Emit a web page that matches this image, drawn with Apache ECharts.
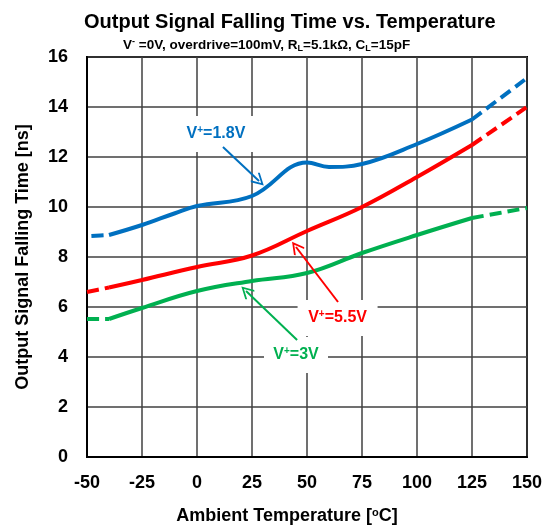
<!DOCTYPE html>
<html><head><meta charset="utf-8">
<script src="https://cdn.jsdelivr.net/npm/echarts@6/dist/echarts.min.js"></script>
<style>html,body{margin:0;padding:0;background:#fff}#c{width:552px;height:526px}</style>
</head><body><div id="c"></div>
<script>
// ---- data ----
const xTicks = [-50, -25, 0, 25, 50, 75, 100, 125, 150];
const yTicks = [0, 2, 4, 6, 8, 10, 12, 14, 16];

const blueTemps  = [-48, -40, -25, -10, 0, 25, 50, 60, 75, 100, 125, 150];
const blueValues = [8.84, 8.88, 9.28, 9.75, 10.04, 10.44, 11.78, 11.6, 11.72, 12.52, 13.5, 15.16];

const redTemps  = [-50, -40, -25, 0, 25, 50, 75, 100, 125, 150];
const redValues = [6.6, 6.78, 7.08, 7.6, 8.06, 9.04, 10.0, 11.2, 12.48, 14.0];

const greenTemps  = [-50, -40, -25, 0, 25, 50, 75, 100, 125, 150];
const greenValues = [5.52, 5.52, 5.96, 6.64, 7.04, 7.36, 8.16, 8.88, 9.56, 9.96];

const solidFrom = -40;   // measured range (solid); outside is dashed extrapolation
const solidTo = 125;

const labelBlue = 'V+=1.8V';
const labelRed = 'V+=5.5V';
const labelGreen = 'V+=3V';

// ---- helpers ----
const FONT = 'Liberation Sans, Arial, sans-serif';
function pairs(t, v) { return t.map((x, i) => [x, v[i]]); }
function part(t, v, lo, hi) { return pairs(t, v).filter(p => p[0] >= lo && p[0] <= hi); }

const arrowPath = 'path://M0,0 L10,13 L8,14.5 L0,4 L-8,14.5 L-10,13 Z';

function lineSeries(name, color, data, dashed, extra) {
  return Object.assign({
    name, type: 'line', data, smooth: 0.4,
    showSymbol: false, symbol: 'none', silent: true,
    lineStyle: { color, width: 4, type: dashed ? [12, 6] : 'solid', cap: 'butt' },
    z: 3
  }, extra || {});
}

function annot(color, text, textPos, from, to) {
  const rich = {
    a: { fontSize: 16, fontWeight: 'bold', fontFamily: FONT, color, lineHeight: 18 },
    s: { fontSize: 10, fontWeight: 'bold', fontFamily: FONT, color, verticalAlign: 'top', lineHeight: 18, padding: [0, 0, 6, 0] }
  };
  const fmt = '{a|V}{s|+}{a|' + text.slice(2) + '}';
  return {
    markLine: {
      silent: true, animation: false,
      symbol: ['none', arrowPath], symbolSize: [13, 13],
      lineStyle: { color, width: 2, type: 'solid' },
      label: { show: false },
      data: [[{ coord: from }, { coord: to }]],
      z: 5
    },
    markPoint: {
      silent: true, animation: false,
      symbol: 'rect', symbolSize: [text.length > 6 ? 80 : 64, 36],
      itemStyle: { color: '#fff' },
      label: { show: true, position: 'inside', formatter: fmt, rich },
      data: [{ coord: textPos }],
      z: 4
    }
  };
}

const chart = echarts.init(document.getElementById('c'), null, { renderer: 'canvas' });
chart.setOption({
  animation: false,
  backgroundColor: '#fff',
  title: [
    { text: 'Output Signal Falling Time vs. Temperature', left: 79, top: 7,
      textStyle: { fontSize: 20, fontWeight: 'bold', fontFamily: FONT, color: '#000' } },
    { text: '{b|V}{p|-}{b| =0V, overdrive=100mV, R}{u|L}{b|=5.1kΩ, C}{u|L}{b|=15pF}', left: 118, top: 32,
      textStyle: { fontSize: 13.5, fontWeight: 'bold', fontFamily: FONT, color: '#000',
        rich: {
          b: { fontSize: 13.5, fontWeight: 'bold', fontFamily: FONT, color: '#000', lineHeight: 16 },
          p: { fontSize: 9, fontWeight: 'bold', fontFamily: FONT, color: '#000', verticalAlign: 'top', lineHeight: 16 },
          u: { fontSize: 9, fontWeight: 'bold', fontFamily: FONT, color: '#000', verticalAlign: 'bottom', lineHeight: 16, padding: [4, 0, 0, 0] }
        } } }
  ],
  grid: { left: 87, right: 25, top: 57, bottom: 69, show: true, borderColor: '#000', borderWidth: 2, containLabel: false, outerBoundsMode: 'none' },
  xAxis: {
    type: 'value', min: xTicks[0], max: xTicks[xTicks.length - 1], interval: 25,
    name: 'Ambient Temperature [{s|o}C]', nameLocation: 'middle', nameGap: 50,
    nameTextStyle: { fontSize: 18, fontWeight: 'bold', fontFamily: FONT, color: '#000', padding: [0, 40, 0, 0],
      rich: { s: { fontSize: 11, fontWeight: 'bold', fontFamily: FONT, color: '#000', verticalAlign: 'top', padding: [0, 0, 8, 0] } } },
    axisLine: { show: true, onZero: false, lineStyle: { color: '#000', width: 2 } },
    axisTick: { show: false },
    axisLabel: { fontSize: 18, fontWeight: 'bold', fontFamily: FONT, color: '#000', margin: 17 },
    splitLine: { show: true, lineStyle: { color: '#404040', width: 1.5 } }
  },
  yAxis: {
    type: 'value', min: yTicks[0], max: yTicks[yTicks.length - 1], interval: 2,
    name: 'Output Signal Falling Time [ns]', nameLocation: 'middle', nameGap: 55,
    nameTextStyle: { fontSize: 18, fontWeight: 'bold', fontFamily: FONT, color: '#000' },
    axisLine: { show: true, onZero: false, lineStyle: { color: '#000', width: 2 } },
    axisTick: { show: false },
    axisLabel: { fontSize: 18, fontWeight: 'bold', fontFamily: FONT, color: '#000', margin: 19 },
    splitLine: { show: true, lineStyle: { color: '#404040', width: 1.5 } }
  },
  series: [
    lineSeries('blueL', '#0070C0', part(blueTemps, blueValues, -60, solidFrom), true),
    lineSeries('blue', '#0070C0', part(blueTemps, blueValues, solidFrom, solidTo), false,
      annot('#0070C0', labelBlue, [8.6, 12.92], [11.8, 12.4], [28.2, 11.04])),
    lineSeries('blueR', '#0070C0', part(blueTemps, blueValues, solidTo, 200), true),
    lineSeries('redL', '#FF0000', part(redTemps, redValues, -60, solidFrom), true),
    lineSeries('red', '#FF0000', part(redTemps, redValues, solidFrom, solidTo), false,
      annot('#FF0000', labelRed, [63.9, 5.56], [64.1, 6.2], [45, 8.4])),
    lineSeries('redR', '#FF0000', part(redTemps, redValues, solidTo, 200), true),
    lineSeries('greenL', '#00B050', part(greenTemps, greenValues, -60, solidFrom), true),
    lineSeries('green', '#00B050', part(greenTemps, greenValues, solidFrom, solidTo), false,
      annot('#00B050', labelGreen, [45, 4.08], [45.5, 4.68], [22.3, 6.64])),
    lineSeries('greenR', '#00B050', part(greenTemps, greenValues, solidTo, 200), true)
  ]
});
</script>
</body></html>
